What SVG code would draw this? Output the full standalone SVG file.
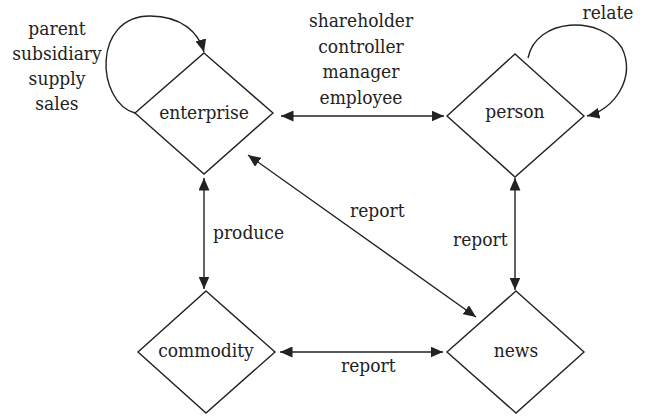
<svg xmlns="http://www.w3.org/2000/svg" width="646" height="417" viewBox="0 0 646 417">
<style>
.node{fill:#fff;stroke:#222;stroke-width:1.4}
.edge{fill:none;stroke:#222;stroke-width:1.4}
text{font-family:'DejaVu Serif Condensed','DejaVu Serif',serif;font-stretch:condensed;font-size:19px;fill:#222}
.c{text-anchor:middle}
</style>
<defs>
<marker id="ah" markerUnits="userSpaceOnUse" markerWidth="13" markerHeight="11" refX="12.5" refY="5.5" orient="auto-start-reverse">
<path d="M0,0 L12.5,5.5 L0,11 z" fill="#222"/>
</marker>
</defs>
<rect width="646" height="417" fill="#fff"/>
<g id="connectors">
<line class="edge" x1="281" y1="116" x2="444" y2="116" marker-start="url(#ah)" marker-end="url(#ah)"/>
<line class="edge" x1="204" y1="178" x2="204" y2="289" marker-start="url(#ah)" marker-end="url(#ah)"/>
<line class="edge" x1="515" y1="178" x2="515" y2="290" marker-start="url(#ah)" marker-end="url(#ah)"/>
<line class="edge" x1="280" y1="352" x2="443" y2="352" marker-start="url(#ah)" marker-end="url(#ah)"/>
<line class="edge" x1="248" y1="155" x2="476" y2="317" marker-start="url(#ah)" marker-end="url(#ah)"/>
<path class="edge" d="M135,113 C96,102 92,16 150,16 C182,16 199,33 204,52" marker-end="url(#ah)"/>
<path class="edge" d="M528,58 C536,18 600,14 622,48 C636,78 614,110 587,116" marker-end="url(#ah)"/>
<text class="c" x="57" y="35">parent</text>
<text class="c" x="57" y="60">subsidiary</text>
<text class="c" x="57" y="85">supply</text>
<text class="c" x="57" y="110">sales</text>
<text class="c" x="361" y="27">shareholder</text>
<text class="c" x="361" y="53">controller</text>
<text class="c" x="361" y="78">manager</text>
<text class="c" x="361" y="104">employee</text>
<text class="c" x="608" y="19">relate</text>
<text x="213" y="239">produce</text>
<text x="350" y="217">report</text>
<text x="453" y="246">report</text>
<text x="341" y="372">report</text>
</g>
<g id="enterprise">
<polygon class="node" points="204,53 273,113 204,174 135,113"/>
<text class="c" x="204" y="119">enterprise</text>
</g>
<g id="person">
<polygon class="node" points="515,54 584,116 515,177 447,116"/>
<text class="c" x="515" y="118">person</text>
</g>
<g id="commodity">
<polygon class="node" points="206,291 275,352 206,413 138,352"/>
<text class="c" x="206" y="357">commodity</text>
</g>
<g id="news">
<polygon class="node" points="516,291 584,352 516,413 447,352"/>
<text class="c" x="516" y="357">news</text>
</g>
</svg>
